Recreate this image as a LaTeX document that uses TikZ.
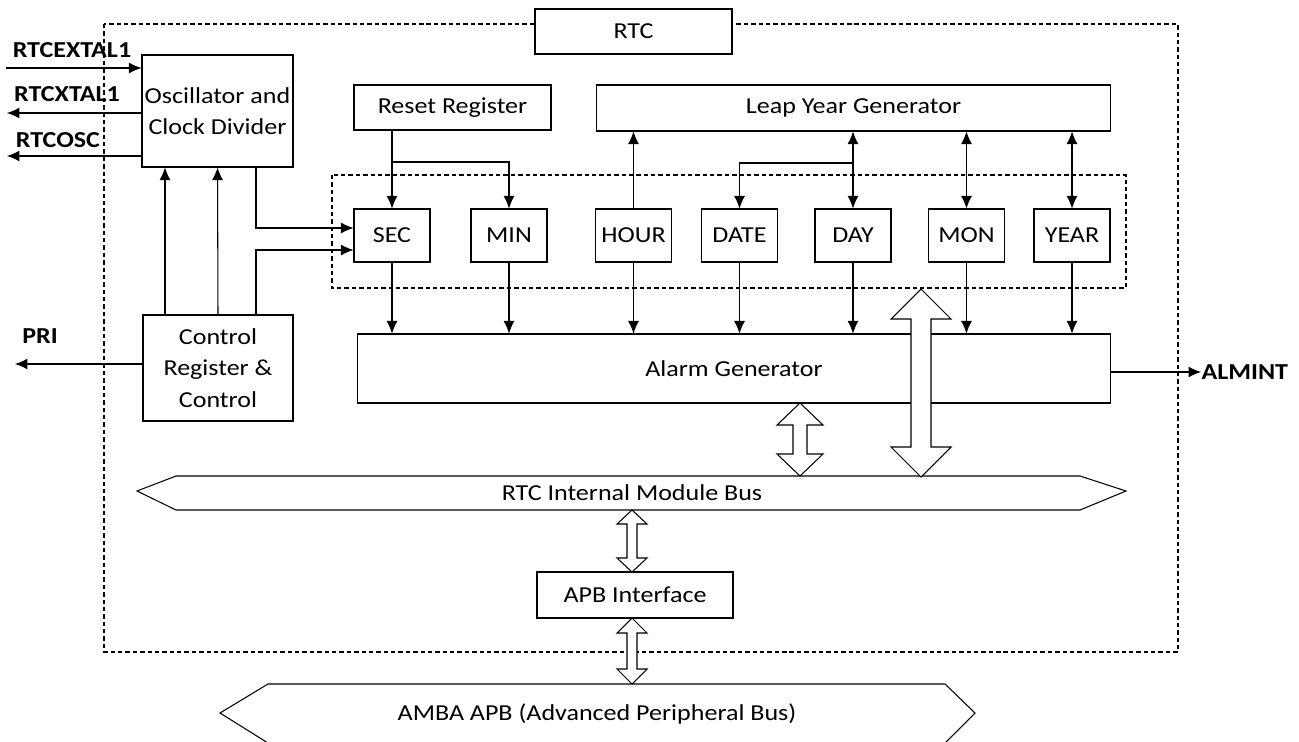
\documentclass[tikz,border=0pt]{standalone}
\usepackage{fontspec}
\setmainfont{Carlito}[FakeStretch=1.14]
\usetikzlibrary{arrows.meta}

\newcommand\hollowarrow[6]{%
  \draw[fill=white] (#1,#2) -- (#1+#4,#2+#6) -- (#1+#5,#2+#6) -- (#1+#5,#3-#6) -- (#1+#4,#3-#6)
    -- (#1,#3) -- (#1-#4,#3-#6) -- (#1-#5,#3-#6) -- (#1-#5,#2+#6) -- (#1-#4,#2+#6) -- cycle;}

\begin{document}
\begin{tikzpicture}[x=0.02cm, y=-0.02cm, >={Latex[length=2.5mm,width=2.2mm]}, line width=0.6pt,
  font=\fontsize{13}{18}\selectfont,
  box/.style={draw, fill=white, align=center, inner sep=0pt},
  reg/.style={box, minimum width=1.52cm, minimum height=1.06cm},
  pin/.style={font=\fontsize{13}{18}\selectfont\bfseries},
  frame/.style={dash pattern=on 2.5pt off 1.7pt}]

\useasboundingbox (0,0) rectangle (1299,741);
\clip (0,0) rectangle (1299,741);

\draw[frame] (104,24) rectangle (1178,652);
\draw[frame] (332,175) rectangle (1126,288);

\node[box, minimum width=3.94cm, minimum height=0.9cm] (rtc) at (633.5,31.5) {RTC};
\node[box, minimum width=3.02cm, minimum height=2.24cm] (osc) at (217.5,111) {Oscillator and\\Clock Divider};
\node[box, minimum width=3.0cm, minimum height=2.12cm] (ctrl) at (218,368) {Control\\Register \&\\Control};
\node[box, minimum width=3.94cm, minimum height=0.9cm] (reset) at (452.5,107.5) {Reset Register};
\node[box, minimum width=10.3cm, minimum height=0.92cm] (leap) at (853.5,108) {Leap Year Generator};
\node[box, minimum width=15.08cm, minimum height=1.38cm] (alarm) at (734,368.5) {Alarm Generator};
\node[box, minimum width=3.92cm, minimum height=0.92cm] (apb) at (635,595) {APB Interface};

\foreach \n/\t/\x in {sec/SEC/392, min/MIN/509, hour/HOUR/633.5, date/DATE/739.5,
                      day/DAY/853, mon/MON/966.5, year/YEAR/1072}
{
	\node[reg] (\n) at (\x,235.5) {\t};
	\draw[->] (\n.south) -- (\n.south |- alarm.north);
}

% external pins
\coordinate (extal) at (6,68);
\coordinate (xtal) at (7,113);
\coordinate (rosc) at (7,156);
\coordinate (pri) at (15,364);
\coordinate (alm) at (1201,372);
\draw[->] (extal) -- (extal -| osc.west);
\draw[->] (xtal -| osc.west) -- (xtal);
\draw[->] (rosc -| osc.west) -- (rosc);
\draw[->] (pri -| ctrl.west) -- (pri);
\draw[->] (alarm.east |- alm) -- (alm);
\node[pin] at (72,50) {RTCEXTAL1};
\node[pin] at (67,94) {RTCXTAL1};
\node[pin] at (58,140) {RTCOSC};
\node[pin] at (40,336) {PRI};
\node[pin, anchor=west, inner sep=0pt] at (alm) {ALMINT};

% clock and control
\coordinate (t1) at (256,228);
\coordinate (t2) at (256,250);
\coordinate (c1) at (165,0);
\draw[->] (t1 |- osc.south) |- (t1 -| sec.west);
\draw[->] (t2 |- ctrl.north) |- (t2 -| sec.west);
\draw[->] (c1 |- ctrl.north) -- (c1 |- osc.south);
\draw[->] (ctrl.north) -- (osc.south);

% reset and leap year
\coordinate (rj) at (392,162);
\coordinate (lj) at (853,163);
\draw[->] (sec.north |- reset.south) -- (sec.north);
\draw[->] (rj) -| (min.north);
\draw[->] (hour.north) -- (hour.north |- leap.south);
\draw[->] (lj) -| (date.north);
\foreach \n in {day,mon,year}
	\draw[<->] (\n.north |- leap.south) -- (\n.north);

% buses
\draw (137,491) -- (176,476) -- (1080,476) -- (1126,491) -- (1080,510) -- (176,510) -- cycle;
\node (ibus) at (632,493) {RTC Internal Module Bus};
\draw (220,713) -- (268,684) -- (945,684) -- (975,713) -- (945,743) -- (268,743) -- cycle;
\node (amba) at (597,714) {AMBA APB (Advanced Peripheral Bus)};

\hollowarrow{921}{289}{477}{30}{10}{30}
\hollowarrow{800}{403}{476}{23}{7}{22}
\hollowarrow{632}{510}{572}{15}{5}{14}
\hollowarrow{632}{618}{684}{15}{5}{15}

\end{tikzpicture}
\end{document}
